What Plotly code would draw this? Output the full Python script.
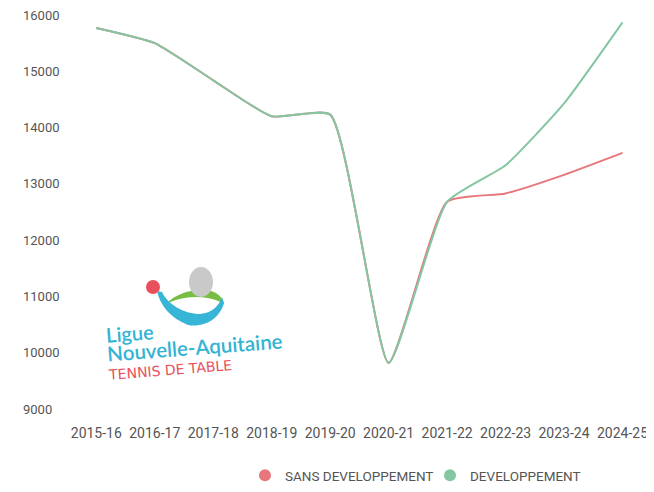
import plotly.graph_objects as go

seasons = ["2015-16", "2016-17", "2017-18", "2018-19", "2019-20",
           "2020-21", "2021-22", "2022-23", "2023-24", "2024-25"]
sans_developpement = [15770, 15500, 14840, 14200, 14230, 9820, 12680, 12830, 13160, 13550]
developpement = [15770, 15500, 14840, 14200, 14230, 9820, 12680, 13330, 14430, 15870]
y_ticks = [9000, 10000, 11000, 12000, 13000, 14000, 15000, 16000]

RED = "#E8777B"
GREEN = "#84C5A2"
TXT = "#555555"

# the page body has an 8px margin: figure is drawn at (8, 8)
OFF = 8
WIDTH, HEIGHT = 654 - OFF, 492 - OFF
ML, MR, MT, MB = 14, 0, 0, 72
PW = WIDTH - ML - MR
PH = HEIGHT - MT - MB


def P(px, py):
    """page pixel -> paper coordinates"""
    fx, fy = px - OFF, py - OFF
    return (fx - ML) / PW, (MT + PH - fy) / PH


def path(pts_cmds):
    out = []
    for cmd, pts in pts_cmds:
        coords = []
        for (a, b) in pts:
            x, y = P(a, b)
            coords.append(f"{x:.5f},{y:.5f}")
        out.append(cmd + " " + " ".join(coords))
    return " ".join(out) + " Z"


fig = go.Figure()
fig.add_trace(go.Scatter(x=seasons, y=sans_developpement, mode="lines",
                         line=dict(color=RED, width=2, shape="spline", smoothing=0.5),
                         showlegend=False, hoverinfo="skip"))
fig.add_trace(go.Scatter(x=seasons, y=developpement, mode="lines",
                         line=dict(color=GREEN, width=2, shape="spline", smoothing=0.5),
                         showlegend=False, hoverinfo="skip"))
fig.add_trace(go.Scatter(x=[None], y=[None], mode="markers", name="SANS DEVELOPPEMENT",
                         marker=dict(color=RED, size=16)))
fig.add_trace(go.Scatter(x=[None], y=[None], mode="markers", name="DEVELOPPEMENT",
                         marker=dict(color=GREEN, size=16)))

# logo shapes
shapes = []
green_path = path([
    ("M", [(166, 304)]),
    ("C", [(175, 294), (190, 289), (205, 290)]),
    ("C", [(215, 291), (222, 295), (224, 304)]),
    ("C", [(218, 300), (208, 297), (196, 297)]),
    ("C", [(184, 297), (174, 300), (166, 304)]),
])
blue_path = path([
    ("M", [(157, 291)]),
    ("C", [(160, 305), (170, 318), (188, 325)]),
    ("C", [(205, 328), (220, 318), (224, 303)]),
    ("L", [(222, 297)]),
    ("C", [(219, 306), (212, 313), (200, 314)]),
    ("C", [(185, 314), (168, 305), (162, 292)]),
])
shapes.append(dict(type="path", xref="paper", yref="paper", path=green_path,
                   fillcolor="#78BE45", line=dict(width=0), layer="above"))
shapes.append(dict(type="path", xref="paper", yref="paper", path=blue_path,
                   fillcolor="#37B5D6", line=dict(width=0), layer="above"))
x0, y0 = P(189, 297)
x1, y1 = P(213, 267)
shapes.append(dict(type="circle", xref="paper", yref="paper", x0=x0, y0=y0, x1=x1, y1=y1,
                   fillcolor="#C9C9C9", line=dict(width=0), layer="above"))
x0, y0 = P(146, 294)
x1, y1 = P(160, 280)
shapes.append(dict(type="circle", xref="paper", yref="paper", x0=x0, y0=y0, x1=x1, y1=y1,
                   fillcolor="#E8505B", line=dict(width=0), layer="above"))

annotations = []
ax, ay = P(130, 333)
annotations.append(dict(x=ax, y=ay, xref="paper", yref="paper", text="Ligue", showarrow=False,
                        xanchor="center", yanchor="middle", textangle=-4,
                        font=dict(family="Lato", size=20, color="#33B3D3", weight=600)))
ax, ay = P(194.5, 347)
annotations.append(dict(x=ax, y=ay, xref="paper", yref="paper", text="Nouvelle-Aquitaine",
                        showarrow=False, xanchor="center", yanchor="middle", textangle=-4.3,
                        font=dict(family="Lato", size=20.5, color="#33B3D3", weight=600)))
ax, ay = P(169.5, 370)
annotations.append(dict(x=ax, y=ay, xref="paper", yref="paper", text="TENNIS DE TABLE",
                        showarrow=False, xanchor="center", yanchor="middle", textangle=-4.6,
                        font=dict(family="DejaVu Sans", size=14, color="#E8505B")))

# axis ranges so categories / values sit at the reference positions
first_px, last_px = 96.3, 622.5
step = (last_px - first_px) / 9
r0 = -(first_px - OFF - ML) / step
r1 = 9 + (WIDTH - MR - (last_px - OFF)) / step
k = 394 / 7000.0
ytop = 16000 + (15 - OFF - MT) / k
ybot = 9000 - (MT + PH - (409 - OFF)) / k

fig.update_layout(
    width=WIDTH, height=HEIGHT,
    margin=dict(l=ML, r=MR, t=MT, b=MB, autoexpand=False),
    paper_bgcolor="white", plot_bgcolor="white",
    font=dict(family="Roboto", color=TXT),
    xaxis=dict(type="category", range=[r0, r1], showgrid=False, zeroline=False,
               showline=False, ticks="", ticklabelstandoff=3, ticklabeloverflow="allow",
               tickfont=dict(size=14, color=TXT)),
    yaxis=dict(range=[ybot, ytop], tickvals=y_ticks, ticktext=[str(v) for v in y_ticks],
               showgrid=False, zeroline=False, showline=False, ticks="",
               anchor="free", position=0, side="right", ticklabelstandoff=0,
               ticklabeloverflow="allow",
               tickfont=dict(size=13, color=TXT)),
    legend=dict(orientation="h", x=(237 - ML) / PW, xanchor="left",
                y=(MT + PH - 452) / PH, yanchor="top", entrywidth=140,
                font=dict(size=13.5, color=TXT), itemsizing="constant"),
    shapes=shapes,
    annotations=annotations,
)

fig.write_html("out.html")
